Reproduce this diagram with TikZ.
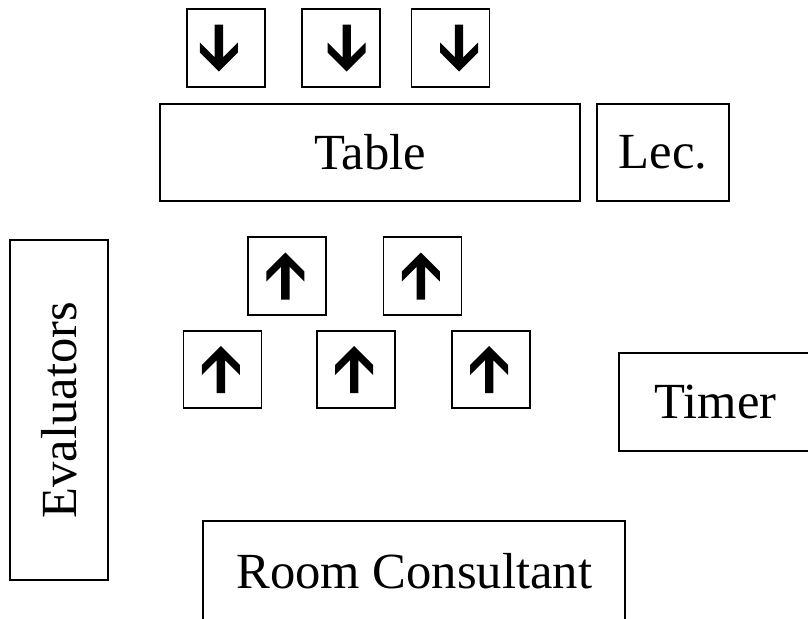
\documentclass[tikz,border=0pt]{standalone}
\usepackage{fontspec}
\setmainfont{Liberation Serif}

\begin{document}
\begin{tikzpicture}[x = 0.025cm, y = -0.025cm]
\tikzstyle{BoxStyle} = [draw, line width = 1.3pt, inner sep = 0pt, font = \fontsize{36}{40}\selectfont]
\tikzstyle{ChairStyle} = [BoxStyle, minimum width = 1.95cm, minimum height = 1.93cm]
\tikzstyle{ArrowStyle} = [fill = black]
\useasboundingbox (0,0) rectangle (808,618);
% table, lectern and the rest of the room
\node[BoxStyle, minimum width = 10.5cm, minimum height = 2.43cm] (table) at (370,152.5) {Table};
\node[BoxStyle, minimum width = 3.3cm, minimum height = 2.43cm] (lec) at (663,152.5) {Lec.};
\node[BoxStyle, rotate = 90, minimum width = 8.5cm, minimum height = 2.45cm] (eval) at (59,410) {Evaluators};
\node[BoxStyle, minimum width = 4.83cm, minimum height = 2.43cm] (timer) at (715.5,402) {Timer};
\node[BoxStyle, minimum width = 10.54cm, minimum height = 2.53cm] (consult) at (414.2,571.3) {Room Consultant};
% chairs behind the table
\node[ChairStyle] (d1) at (225.8,48) {};
\node[ChairStyle] (d2) at (341,48) {};
\node[ChairStyle] (d3) at (450.5,48) {};
% chairs facing the table
\node[ChairStyle] (u1) at (287,276) {};
\node[ChairStyle] (u2) at (422.5,276) {};
\node[ChairStyle] (u3) at (222.5,369.5) {};
\node[ChairStyle] (u4) at (355.8,369.5) {};
\node[ChairStyle] (u5) at (490.8,369.5) {};
% arrows in the chairs
\foreach \c/\dx in {d1/-7, d2/5.7, d3/8.5}
  \fill[ArrowStyle, shift = {(\c.center)}, shift = {(\dx,0)}, yscale = -1]
    (0,-23.5) -- (19,-4.5) -- (19,5.5) -- (4.2,-9.3) -- (4.2,23.5) -- (-4.2,23.5)
    -- (-4.2,-9.3) -- (-19,5.5) -- (-19,-4.5) -- cycle;
\foreach \c in {u1, u2, u3, u4, u5}
  \fill[ArrowStyle, shift = {(\c.center)}, shift = {(-1.6,0)}]
    (0,-23.5) -- (19,-4.5) -- (19,5.5) -- (4.2,-9.3) -- (4.2,23.5) -- (-4.2,23.5)
    -- (-4.2,-9.3) -- (-19,5.5) -- (-19,-4.5) -- cycle;
\end{tikzpicture}
\end{document}
